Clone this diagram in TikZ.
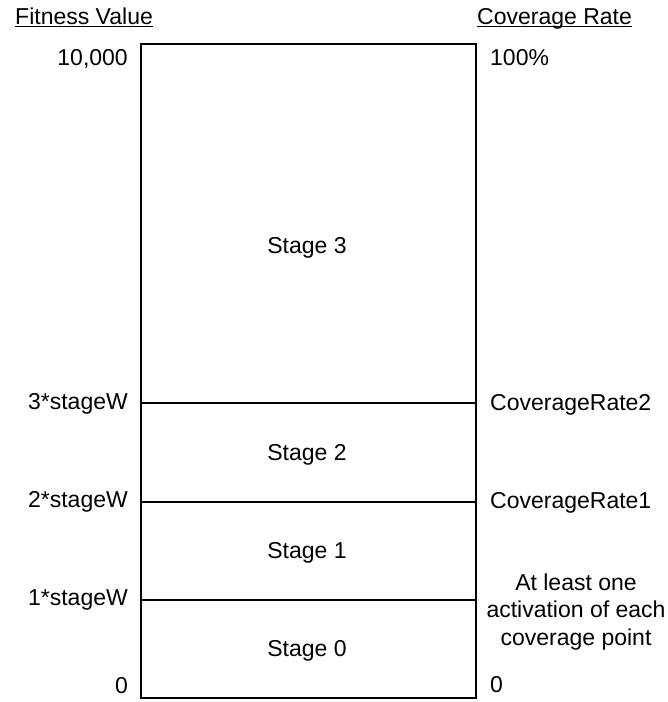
\documentclass[tikz,border=0pt]{standalone}
\usepackage{fontspec}
\setmainfont{Liberation Sans}
\usetikzlibrary{positioning}
\tikzset{
 txt/.style={font=\fontsize{23}{27.5}\selectfont, inner sep=0pt},
 lbl/.style={txt, anchor=mid east},
 rlbl/.style={txt, anchor=mid west},
 stg/.style={txt, anchor=mid},
 divline/.style={line width=2pt}
}
\begin{document}
\begin{tikzpicture}[x=1pt,y=-1pt]
 \useasboundingbox (0,0) rectangle (668,702);
 % headers
 \node (FV) [txt, anchor=base west] at (15,24) {Fitness Value};
 \node (CR) [txt, anchor=base west] at (477,24) {Coverage Rate};
 \draw [line width=1.5pt] ([yshift=-2.5pt]FV.base west) -- ([yshift=-2.5pt]FV.base east);
 \draw [line width=1.5pt] ([yshift=-2.5pt]CR.base west) -- ([yshift=-2.5pt]CR.base east);
 % the box
 \node (Box) [draw, line width=2pt, minimum width=335pt, minimum height=654pt, anchor=north west, inner sep=0pt] at (140,43) {};
 \coordinate (L3) at (140,403);
 \coordinate (R3) at (475,403);
 \coordinate (L2) at (140,502);
 \coordinate (R2) at (475,502);
 \coordinate (L1) at (140,600);
 \coordinate (R1) at (475,600);
 \draw [divline] (L3) -- (R3);
 \draw [divline] (L2) -- (R2);
 \draw [divline] (L1) -- (R1);
 % fitness values
 \node (F4) [lbl] at (128,63) {10,000};
 \node (F3) [lbl] at (128,407) {3*stageW};
 \node (F2) [lbl] at (128,505) {2*stageW};
 \node (F1) [lbl] at (128,603) {1*stageW};
 \node (F0) [lbl] at (128,691) {0};
 % coverage rates
 \node (C4) [rlbl] at (490,63) {100\%};
 \node (C3) [rlbl] at (490,408) {CoverageRate2};
 \node (C2) [rlbl] at (490,506) {CoverageRate1};
 \node (C1) [txt, align=center] at (576,612) {At least one\\activation of each\\coverage point};
 \node (C0) [rlbl] at (490,690) {0};
 % stages
 \node (S3) [stg] at (307,251) {Stage 3};
 \node (S2) [stg] at (307,458) {Stage 2};
 \node (S1) [stg] at (307,556) {Stage 1};
 \node (S0) [stg] at (307,654) {Stage 0};
\end{tikzpicture}
\end{document}
